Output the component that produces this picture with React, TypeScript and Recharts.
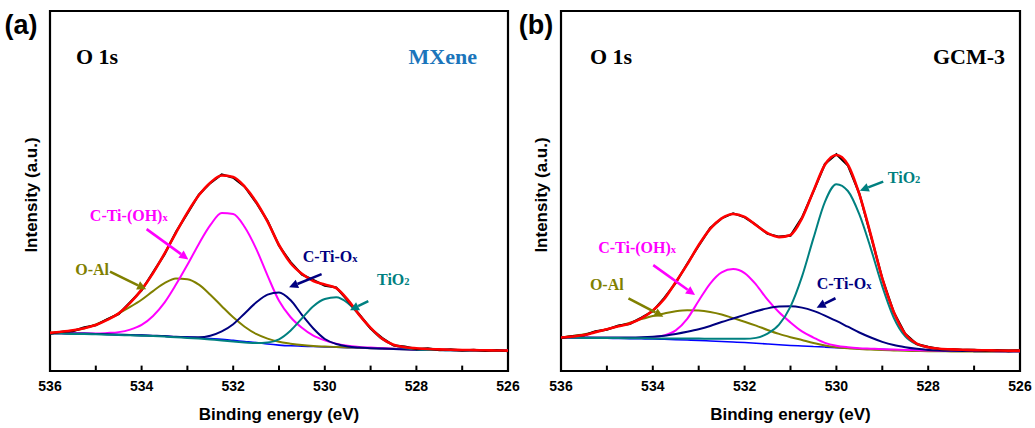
import React from 'react';
import { LineChart, Line, XAxis, YAxis, ReferenceArea, ReferenceLine, ReferenceDot } from 'recharts';

// Binding energy grid (eV), 536 -> 526
const energy = [
  536, 535.75, 535.5, 535.25, 535, 534.75, 534.5, 534.25, 534, 533.75, 533.5, 533.25, 533,
  532.75, 532.5, 532.25, 532, 531.75, 531.5, 531.25, 531, 530.75, 530.5, 530.25, 530,
  529.75, 529.5, 529.25, 529, 528.75, 528.5, 528.25, 528, 527.75, 527.5, 527.25, 527,
  526.75, 526.5, 526.25, 526,
];

// ---- Panel (a) MXene ----
const aRaw = [10.4, 10.9, 11.1, 12.1, 12.7, 14.4, 15.8, 19.1, 22.4, 27.4, 32.4, 38.6, 43.8, 49.0, 52.2, 54.6, 53.7, 51.2, 46.8, 41.7, 34.8, 30.3, 26.8, 25.3, 23.7, 23.2, 19.6, 15.8, 11.8, 9.2, 7.1, 6.8, 6.1, 6.3, 5.8, 6.0, 5.7, 5.9, 5.6, 5.8, 5.5];
const aFit = [10.6, 10.9, 11.3, 11.9, 12.8, 14.2, 16.0, 18.9, 22.6, 27.2, 32.6, 38.4, 44.0, 48.8, 52.3, 54.3, 53.9, 51.2, 47.0, 41.5, 35.0, 30.0, 27.0, 25.0, 24.0, 23.0, 19.8, 15.6, 12.0, 9.0, 7.3, 6.6, 6.3, 6.1, 6.0, 5.9, 5.85, 5.8, 5.75, 5.7, 5.65];
const aBackground = [10.5, 10.5, 10.4, 10.4, 10.3, 10.2, 10.1, 10.0, 9.9, 9.8, 9.7, 9.5, 9.4, 9.2, 9.0, 8.8, 8.5, 8.2, 7.9, 7.5, 7.2, 7.0, 6.9, 6.8, 6.7, 6.6, 6.5, 6.4, 6.3, 6.2, 6.1, 6.0, 5.9, 5.85, 5.8, 5.75, 5.7, 5.7, 5.65, 5.6, 5.6];
const aOAl = [10.6, 10.8, 11.2, 11.9, 12.9, 14.3, 16.0, 17.8, 19.8, 22.2, 24.4, 25.7, 25.5, 24.0, 21.2, 18.0, 14.9, 12.3, 10.3, 9.0, 8.1, 7.6, 7.2, 6.95, 6.8, 6.67, 6.56, 6.45, 6.35, 6.25, 6.15, 6.05, 5.95, 5.9, 5.85, 5.8, 5.75, 5.75, 5.7, 5.65, 5.65];
const aOH = [10.5, 10.5, 10.4, 10.4, 10.4, 10.55, 10.8, 11.5, 12.8, 15.3, 19.0, 24.0, 29.5, 35.3, 40.5, 43.9, 43.6, 40.0, 34.0, 26.5, 19.5, 15.0, 12.0, 9.8, 8.5, 7.6, 7.0, 6.7, 6.5, 6.35, 6.2, 6.1, 6.0, 5.95, 5.9, 5.85, 5.8, 5.8, 5.75, 5.7, 5.7];
const aOx = [10.5, 10.5, 10.4, 10.4, 10.3, 10.2, 10.1, 10.0, 9.9, 9.8, 9.7, 9.5, 9.4, 9.35, 9.8, 11.0, 13.0, 16.0, 19.0, 21.2, 21.8, 19.7, 15.6, 11.8, 8.9, 7.5, 6.8, 6.5, 6.35, 6.22, 6.12, 6.02, 5.92, 5.87, 5.82, 5.77, 5.72, 5.72, 5.67, 5.62, 5.62];
const aTiO2 = [10.4, 10.4, 10.3, 10.3, 10.2, 10.1, 10.0, 9.9, 9.8, 9.7, 9.55, 9.35, 9.2, 9.0, 8.75, 8.5, 8.2, 7.95, 7.75, 7.9, 8.8, 11.2, 14.6, 18.0, 20.0, 20.5, 18.9, 15.6, 11.8, 8.9, 7.2, 6.4, 6.0, 5.85, 5.8, 5.75, 5.7, 5.7, 5.65, 5.6, 5.6];

// ---- Panel (b) GCM-3 ----
const bRaw = [9.2, 9.7, 9.9, 11.0, 11.5, 12.6, 13.1, 14.8, 16.6, 20.3, 24.5, 29.8, 34.8, 39.7, 42.4, 43.8, 42.7, 40.6, 38.1, 37.3, 37.6, 42.6, 49.9, 57.5, 60.2, 57.1, 49.3, 37.6, 25.7, 16.3, 10.3, 7.5, 6.7, 6.1, 6.1, 5.8, 5.9, 5.6, 5.8, 5.5, 5.7];
const bFit = [9.3, 9.6, 10.0, 10.8, 11.6, 12.4, 13.2, 14.6, 16.8, 20.0, 24.7, 29.6, 35.0, 39.5, 42.4, 43.6, 42.8, 40.5, 38.3, 37.2, 37.8, 42.4, 50.0, 57.3, 60.0, 57.3, 49.1, 37.8, 25.7, 16.4, 10.3, 7.6, 6.6, 6.2, 6.0, 5.9, 5.8, 5.75, 5.7, 5.65, 5.65];
const bBackground = [9.3, 9.25, 9.2, 9.15, 9.1, 9.05, 9.0, 8.95, 8.9, 8.8, 8.7, 8.6, 8.5, 8.35, 8.2, 8.05, 7.9, 7.7, 7.5, 7.3, 7.1, 6.95, 6.8, 6.65, 6.5, 6.35, 6.2, 6.1, 6.0, 5.9, 5.8, 5.72, 5.65, 5.6, 5.55, 5.52, 5.5, 5.48, 5.47, 5.46, 5.45];
const bOAl = [9.3, 9.7, 10.2, 10.9, 11.6, 12.5, 13.4, 14.4, 15.3, 16.0, 16.6, 16.9, 16.8, 16.4, 15.7, 14.7, 13.7, 12.6, 11.4, 10.3, 9.4, 8.6, 7.8, 7.1, 6.6, 6.3, 6.1, 5.95, 5.8, 5.7, 5.6, 5.55, 5.5, 5.5, 5.45, 5.45, 5.45, 5.45, 5.4, 5.4, 5.4];
const bOH = [9.3, 9.3, 9.25, 9.2, 9.2, 9.15, 9.15, 9.2, 9.4, 9.9, 11.3, 14.5, 19.5, 24.3, 27.4, 28.3, 27.2, 24.0, 19.8, 16.3, 13.5, 11.0, 9.3, 7.8, 7.0, 6.6, 6.35, 6.2, 6.05, 5.95, 5.85, 5.75, 5.7, 5.65, 5.6, 5.6, 5.55, 5.55, 5.5, 5.5, 5.5];
const bOx = [9.3, 9.3, 9.3, 9.3, 9.3, 9.3, 9.3, 9.35, 9.5, 9.8, 10.3, 10.9, 11.6, 12.5, 13.6, 14.6, 15.6, 16.6, 17.4, 17.9, 18.0, 17.6, 16.7, 15.4, 13.9, 12.3, 10.7, 9.3, 8.1, 7.2, 6.6, 6.15, 5.85, 5.68, 5.6, 5.55, 5.52, 5.5, 5.5, 5.5, 5.5];
const bTiO2 = [9.3, 9.25, 9.2, 9.2, 9.15, 9.15, 9.1, 9.1, 9.05, 9.05, 9.0, 9.0, 9.0, 8.95, 8.95, 8.95, 8.95, 9.2, 10.4, 12.9, 17.9, 26.2, 36.9, 47.0, 51.9, 50.0, 43.5, 34.0, 23.5, 14.8, 9.6, 7.4, 6.5, 6.1, 5.95, 5.9, 5.85, 5.8, 5.8, 5.8, 5.8];

// Axis ticks
const xTicks = [536, 534, 532, 530, 528, 526];
const innerTicks = [535, 534, 533, 532, 531, 530, 529, 528, 527];

// Colours
const RED = '#ff0000';
const MAG = '#ff00ff';
const OLIVE = '#808000';
const NAVY = '#000080';
const TEAL = '#008080';
const BLUE = '#0000ff';

// Annotations (data coordinates: eV, intensity)
const aLabels = [
  { text: 'C-Ti-(OH)', sub: 'x', color: MAG, e: 535.13, v: 41.7 },
  { text: 'O-Al', sub: '', color: OLIVE, e: 535.45, v: 26.7 },
  { text: 'C-Ti-O', sub: 'x', color: NAVY, e: 530.48, v: 30.3 },
  { text: 'TiO', sub: '2', color: TEAL, e: 528.86, v: 23.9 },
];
const aArrows = [
  { color: MAG, e1: 533.89, v1: 39.4, e2: 532.98, v2: 31.0 },
  { color: OLIVE, e1: 534.69, v1: 27.6, e2: 533.9, v2: 22.7 },
  { color: NAVY, e1: 530.07, v1: 26.9, e2: 530.78, v2: 23.25 },
  { color: TEAL, e1: 529.05, v1: 19.4, e2: 529.45, v2: 16.9 },
];
const bLabels = [
  { text: 'C-Ti-(OH)', sub: 'x', color: MAG, e: 535.19, v: 32.8 },
  { text: 'O-Al', sub: '', color: OLIVE, e: 535.37, v: 22.5 },
  { text: 'C-Ti-O', sub: 'x', color: NAVY, e: 530.43, v: 22.8 },
  { text: 'TiO', sub: '2', color: TEAL, e: 528.88, v: 52.2 },
];
const bArrows = [
  { color: MAG, e1: 533.99, v1: 29.4, e2: 533.08, v2: 21.1 },
  { color: OLIVE, e1: 534.53, v1: 20.2, e2: 533.77, v2: 15.1 },
  { color: NAVY, e1: 530.02, v1: 20.2, e2: 530.43, v2: 17.6 },
  { color: TEAL, e1: 528.98, v1: 52.6, e2: 529.49, v2: 50.1 },
];

const SANS = '"Liberation Sans", Arial, sans-serif';
const SERIF = '"Liberation Serif", "Times New Roman", serif';

type Series = { raw: number[]; fit: number[]; bg: number[]; oal: number[]; oh: number[]; ox: number[]; tio2: number[] };

function buildRows(s: Series) {
  return energy.map((e, i) => ({
    e,
    raw: s.raw[i],
    fit: s.fit[i],
    bg: s.bg[i],
    oal: s.oal[i],
    oh: s.oh[i],
    ox: s.ox[i],
    tio2: s.tio2[i],
  }));
}

const arrowShape = (color: string) => (p: any) => {
  const { x1, y1, x2, y2 } = p;
  const dx = x2 - x1;
  const dy = y2 - y1;
  const len = Math.sqrt(dx * dx + dy * dy) || 1;
  const ux = dx / len;
  const uy = dy / len;
  const hl = 9;
  const hw = 4.5;
  const bx = x2 - ux * hl;
  const by = y2 - uy * hl;
  return (
    <g>
      <line x1={x1} y1={y1} x2={bx} y2={by} stroke={color} strokeWidth={2.6} />
      <polygon
        points={`${x2},${y2} ${bx - uy * hw},${by + ux * hw} ${bx + uy * hw},${by - ux * hw}`}
        fill={color}
      />
    </g>
  );
};

const labelShape = (text: string, sub: string, color: string) => (p: any) => (
  <text x={p.cx} y={p.cy} fill={color} fontFamily={SERIF} fontWeight={700} fontSize={16} textAnchor="start">
    {text}
    {sub ? <tspan fontSize={10.5}>{sub}</tspan> : null}
  </text>
);

function Panel({ rows, labels, arrows, width, plotRight }: { rows: any[]; labels: any[]; arrows: any[]; width: number; plotRight: number }) {
  return (
    <LineChart width={width} height={428} data={rows} margin={{ top: 11, right: width - plotRight, bottom: 27, left: 50 }}>
      <XAxis
        dataKey="e"
        type="number"
        domain={[526, 536]}
        reversed
        allowDataOverflow
        ticks={xTicks}
        interval={0}
        axisLine={false}
        tickLine={false}
        tickSize={6}
        tickMargin={4}
        height={30}
        tick={{ fontFamily: SANS, fontWeight: 700, fontSize: 14, fill: '#000' }}
      />
      <YAxis hide type="number" domain={[0, 100]} allowDataOverflow />
      <ReferenceArea x1={526} x2={536} y1={0} y2={100} fill="none" stroke="#000" strokeWidth={2.2} ifOverflow="visible" />
      {innerTicks.map((t) => (
        <ReferenceLine key={'t' + t} segment={[{ x: t, y: 0 }, { x: t, y: 1.5 }]} stroke="#000" strokeWidth={2} ifOverflow="visible" />
      ))}
      <Line dataKey="bg" type="monotone" stroke={BLUE} strokeWidth={1.6} dot={false} isAnimationActive={false} />
      <Line dataKey="oal" type="monotone" stroke={OLIVE} strokeWidth={2} dot={false} isAnimationActive={false} />
      <Line dataKey="oh" type="monotone" stroke={MAG} strokeWidth={2} dot={false} isAnimationActive={false} />
      <Line dataKey="ox" type="monotone" stroke={NAVY} strokeWidth={2} dot={false} isAnimationActive={false} />
      <Line dataKey="tio2" type="monotone" stroke={TEAL} strokeWidth={2} dot={false} isAnimationActive={false} />
      <Line dataKey="raw" type="linear" stroke="#000" strokeWidth={2.2} dot={false} isAnimationActive={false} />
      <Line dataKey="fit" type="monotone" stroke={RED} strokeWidth={2.6} dot={false} isAnimationActive={false} />
      {arrows.map((a, i) => (
        <ReferenceLine
          key={'a' + i}
          segment={[{ x: a.e1, y: a.v1 }, { x: a.e2, y: a.v2 }]}
          stroke={a.color}
          ifOverflow="visible"
          shape={arrowShape(a.color)}
        />
      ))}
      {labels.map((l, i) => (
        <ReferenceDot key={'l' + i} x={l.e} y={l.v} r={0} ifOverflow="visible" shape={labelShape(l.text, l.sub, l.color)} />
      ))}
    </LineChart>
  );
}

export default function App() {
  const rowsA = buildRows({ raw: aRaw, fit: aFit, bg: aBackground, oal: aOAl, oh: aOH, ox: aOx, tio2: aTiO2 });
  const rowsB = buildRows({ raw: bRaw, fit: bFit, bg: bBackground, oal: bOAl, oh: bOH, ox: bOx, tio2: bTiO2 });
  return (
    <div style={{ position: 'absolute', left: 0, top: 0, width: 1035, height: 428, background: '#fff', overflow: 'hidden' }}>
      <div style={{ position: 'absolute', left: 0, top: 0 }}>
        <Panel rows={rowsA} labels={aLabels} arrows={aArrows} width={530} plotRight={508} />
      </div>
      <div style={{ position: 'absolute', left: 511, top: 0 }}>
        <Panel rows={rowsB} labels={bLabels} arrows={bArrows} width={524} plotRight={509} />
      </div>
      <svg width={1035} height={428} style={{ position: 'absolute', left: 0, top: 0, pointerEvents: 'none' }}>
        <text x={21} y={34} textAnchor="middle" fontFamily={SANS} fontWeight={700} fontSize={27} fill="#000">(a)</text>
        <text x={536} y={34} textAnchor="middle" fontFamily={SANS} fontWeight={700} fontSize={27} fill="#000">(b)</text>
        <text x={76} y={63.5} fontFamily={SERIF} fontWeight={700} fontSize={22} fill="#000">O 1s</text>
        <text x={477} y={63.5} textAnchor="end" fontFamily={SERIF} fontWeight={700} fontSize={22} fill="#1b75bb">MXene</text>
        <text x={590} y={63.5} fontFamily={SERIF} fontWeight={700} fontSize={22} fill="#000">O 1s</text>
        <text x={1005} y={63.5} textAnchor="end" fontFamily={SERIF} fontWeight={700} fontSize={22} fill="#000">GCM-3</text>
        <text transform="translate(31,195) rotate(-90)" textAnchor="middle" dominantBaseline="central" fontFamily={SANS} fontWeight={700} fontSize={17} fill="#000">Intensity (a.u.)</text>
        <text transform="translate(541.5,195) rotate(-90)" textAnchor="middle" dominantBaseline="central" fontFamily={SANS} fontWeight={700} fontSize={17} fill="#000">Intensity (a.u.)</text>
        <text x={279} y={420} textAnchor="middle" fontFamily={SANS} fontWeight={700} fontSize={17} fill="#000">Binding energy (eV)</text>
        <text x={790.5} y={420} textAnchor="middle" fontFamily={SANS} fontWeight={700} fontSize={17} fill="#000">Binding energy (eV)</text>
      </svg>
    </div>
  );
}
